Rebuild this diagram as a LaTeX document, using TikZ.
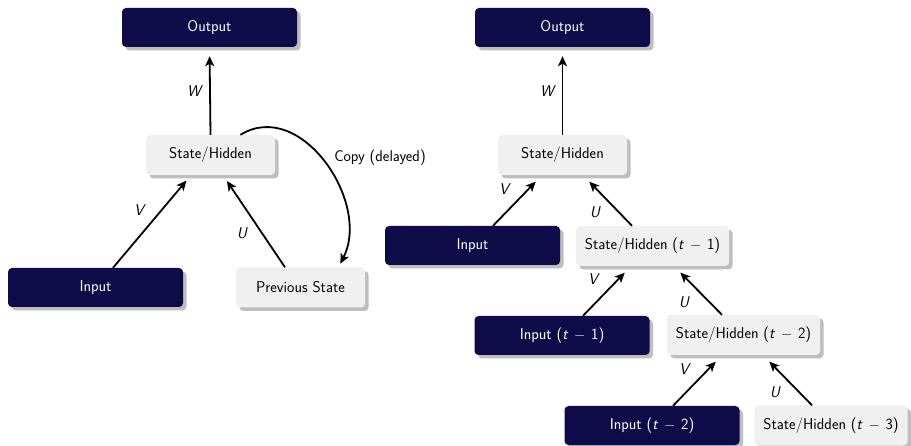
\documentclass[tikz,border=0pt]{standalone}
\usepackage{fontspec}
\usetikzlibrary{arrows.meta,shadows,calc}
\definecolor{navy}{RGB}{14,11,72}
\definecolor{lightbox}{RGB}{240,240,240}
\definecolor{shadowgray}{RGB}{190,190,190}
\tikzset{
  basebox/.style={rounded corners=4pt, font=\sffamily\fontsize{15.6}{18}\selectfont,
    drop shadow={shadow xshift=3.5pt, shadow yshift=-3.5pt, opacity=1, fill=shadowgray}},
  darkbox/.style={basebox, fill=navy, text=white, minimum width=175pt, minimum height=39pt},
  lightbox/.style={basebox, fill=lightbox, text=black, minimum width=129pt, minimum height=40pt, inner xsep=9pt},
  conn/.style={line width=1.8pt, -{Stealth[length=10pt,width=9pt,inset=2.5pt]}},
  lbl/.style={font=\sffamily\itshape\fontsize{15.6}{18}\selectfont, inner sep=0pt},
  txt/.style={font=\sffamily\fontsize{15.6}{18}\selectfont, inner sep=0pt}
}
\newcommand{\tm}[1]{(\textit{t}\,${}-{}$\,#1)}
\begin{document}
\begin{tikzpicture}[x=1pt,y=-1pt]
\useasboundingbox (0,0) rectangle (911,446);
% left
\node[darkbox] (oL) at (209.5,27.5) {Output};
\node[lightbox] (sL) at (210.5,155) {State/Hidden};
\node[darkbox] (iL) at (95.5,287.5) {Input};
\node[lightbox] (pL) at (300.5,287.5) {Previous State};
\draw[conn, shorten >=9pt] (sL.north) -- (oL.south);
\draw[conn, shorten >=7pt] ([xshift=17.5pt]iL.north) -- ([xshift=-19.5pt]sL.south);
\draw[conn, shorten >=7pt] ([xshift=-15.5pt]pL.north) -- ([xshift=12.5pt]sL.south);
\draw[conn, shorten >=4pt] (sL.34) .. controls +(60,-37) and +(33,-65) .. (pL.28);
\node[lbl] (wL) at (194,91) {W};
\node[lbl] (vL) at (139,210) {V};
\node[lbl] (uL) at (242,233) {U};
\node[txt] (cp) at (380,158) {Copy (delayed)};
% right
\node[darkbox] (oR) at (562.5,27.5) {Output};
\node[lightbox] (sR) at (562.5,155) {State/Hidden};
\node[darkbox] (iR) at (472.5,245.5) {Input};
\node[lightbox] (s1) at (652.5,246) {State/Hidden \tm{1}};
\node[darkbox] (i1) at (562,335.5) {Input \tm{1}};
\node[lightbox] (s2) at (743.5,335) {State/Hidden \tm{2}};
\node[darkbox] (i2) at (652,425.5) {Input \tm{2}};
\node[lightbox] (s3) at (831,425.5) {State/Hidden \tm{3}};
\draw[conn, shorten >=9pt] (sR.north) -- (oR.south);
\draw[conn, shorten >=9pt] ([xshift=20.5pt]iR.north) -- ([xshift=-20.5pt]sR.south);
\draw[conn, shorten >=9pt] ([xshift=-20.5pt]s1.north) -- ([xshift=20.5pt]sR.south);
\draw[conn, shorten >=9pt] ([xshift=21pt]i1.north) -- ([xshift=-21.5pt]s1.south);
\draw[conn, shorten >=9pt] ([xshift=-21.5pt]s2.north) -- ([xshift=21.5pt]s1.south);
\draw[conn, shorten >=9pt] ([xshift=21pt]i2.north) -- ([xshift=-21.5pt]s2.south);
\draw[conn, shorten >=9pt] ([xshift=-19pt]s3.north) -- ([xshift=19.5pt]s2.south);
\node[lbl] (wR) at (547,91) {W};
\node[lbl] (vR) at (504,189) {V};
\node[lbl] (uR) at (595,212) {U};
\node[lbl] (v1) at (593,279) {V};
\node[lbl] (u1) at (684,302) {U};
\node[lbl] (v2) at (684,369) {V};
\node[lbl] (u2) at (775,392) {U};
\end{tikzpicture}
\end{document}
